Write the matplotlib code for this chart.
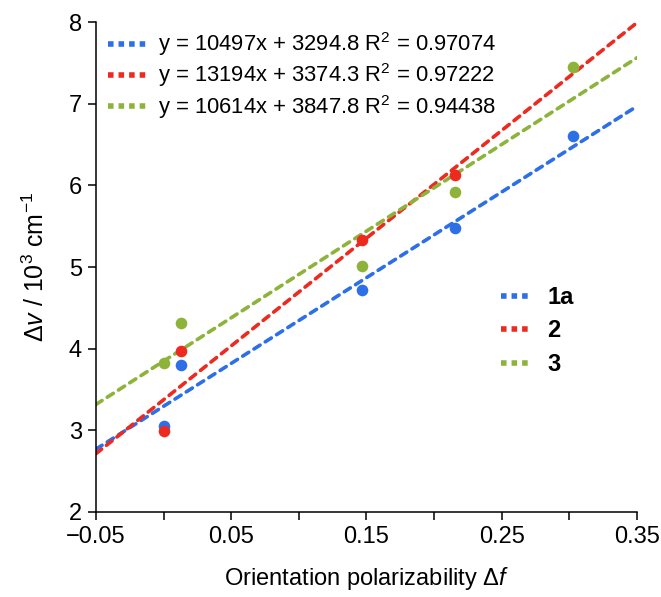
import matplotlib
matplotlib.use('Agg')
import matplotlib.pyplot as plt
from matplotlib.lines import Line2D
import numpy as np

plt.rcParams['font.family'] = ['Liberation Sans', 'DejaVu Sans']
plt.rcParams['mathtext.fontset'] = 'custom'
plt.rcParams['mathtext.rm'] = 'Liberation Sans'
plt.rcParams['mathtext.it'] = 'Liberation Sans:italic'

# measured points (delta f, delta nu in 10^3 cm-1)
f_1a = [0.0, 0.0126, 0.1464, 0.2154, 0.3029]
dv_1a = [3.05, 3.80, 4.72, 5.48, 6.61]
f_2 = [0.0, 0.0126, 0.1464, 0.2154]
dv_2 = [2.99, 3.97, 5.33, 6.13]
f_3 = [0.0, 0.0126, 0.1464, 0.2154, 0.3029]
dv_3 = [3.83, 4.31, 5.01, 5.92, 7.45]

# linear fits (cm-1)
slopes = [10497, 13194, 10614]
intercepts = [3294.8, 3374.3, 3847.8]
r2 = ['0.97074', '0.97222', '0.94438']
names = ['1a', '2', '3']
colors = ['#2D6FE6', '#EC2A1F', '#8DB33A']

fig = plt.figure(figsize=(6.61, 5.97), dpi=100)
ax = fig.add_axes([0.1452, 0.1424, 0.8185, 0.8207])

xs = np.array([-0.05, 0.35])
fit_handles = []
fit_labels = []
for f, dv, k, b, r, c in zip([f_1a, f_2, f_3], [dv_1a, dv_2, dv_3],
                             slopes, intercepts, r2, colors):
    ax.plot(xs, (k * xs + b) / 1000, color=c, lw=2.6,
            linestyle=(0, (2.0, 1.7)), dash_capstyle='round', zorder=2)
    ax.scatter(f, dv, s=70, color=c, zorder=3, linewidths=0)
    fit_handles.append(Line2D([], [], color=c, lw=4, linestyle=(0, (1, 0.9))))
    fit_labels.append(f'y = {k}x + {b} R$^2$ = {r}')

leg1 = ax.legend(fit_handles, fit_labels, loc='upper left',
                 bbox_to_anchor=(-0.003, 1.01), frameon=False, fontsize=15.8,
                 handlelength=1.75, handletextpad=0.55, labelspacing=0.15,
                 borderaxespad=0.2)
ax.add_artist(leg1)

name_handles = [Line2D([], [], color=c, lw=4, linestyle=(0, (1, 0.9)))
                for c in colors]
leg2 = ax.legend(name_handles, names, loc='upper left',
                 bbox_to_anchor=(0.71, 0.505), frameon=False,
                 prop={'weight': 'bold', 'size': 17},
                 handlelength=1.3, handletextpad=0.65, labelspacing=0.45)

ax.set_xlim(-0.05, 0.35)
ax.set_ylim(2, 8)
ax.set_xticks([-0.05, 0.05, 0.15, 0.25, 0.35])
ax.set_xticklabels(['\u22120.05', '0.05', '0.15', '0.25', '0.35'])
ax.set_xticks([0.0, 0.1, 0.2, 0.3], minor=True)
ax.set_yticks(range(2, 9))

for s in ['top', 'right']:
    ax.spines[s].set_visible(False)
for s in ['left', 'bottom']:
    ax.spines[s].set_linewidth(1.1)
ax.tick_params(which='both', direction='out', length=6, width=1.1,
               labelsize=17, pad=4)

ax.set_xlabel(r'Orientation polarizability $\Delta\mathit{f}$', fontsize=17,
              labelpad=12)
ax.set_ylabel(r'$\Delta\mathit{v}$ / 10$^3$ cm$^{-1}$', fontsize=18,
              labelpad=14)

fig.savefig('out.png', dpi=100)
